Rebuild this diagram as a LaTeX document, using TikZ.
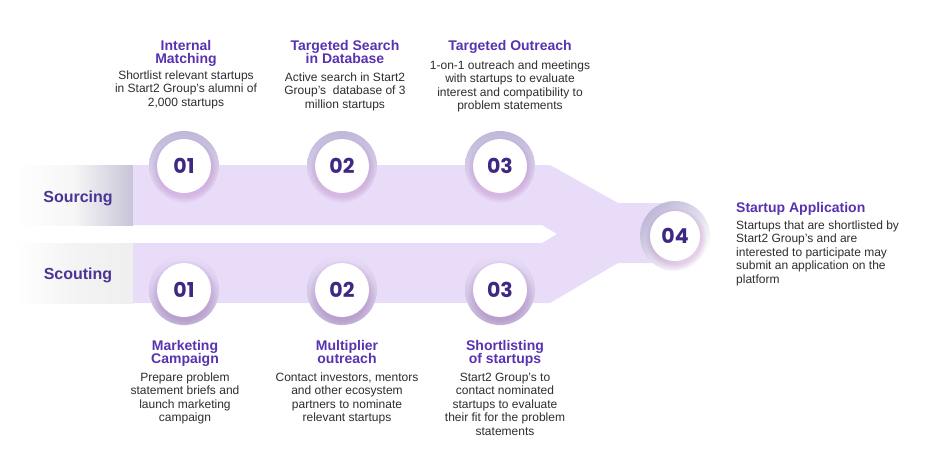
\documentclass[tikz,border=0pt]{standalone}
\usepackage{fontspec}
\setmainfont{Liberation Sans}
\newfontfamily\numfont{Poppins}
\usetikzlibrary{positioning, fadings}

\definecolor{bandc}{RGB}{233,220,248}
\definecolor{ringc}{RGB}{192,184,216}
\definecolor{headc}{RGB}{88,50,176}
\definecolor{numc}{RGB}{62,40,130}
\definecolor{lanec}{RGB}{76,52,150}
\definecolor{bodyc}{RGB}{45,45,45}
\definecolor{fadec}{RGB}{200,196,216}

\begin{document}
\begin{tikzpicture}[x=1pt, y=-1pt,
                    head/.style = {anchor=north, align=center, inner sep=0pt, text=headc,
                                   font=\fontsize{14}{13.5}\selectfont\bfseries},
                    body/.style = {anchor=north, align=center, inner sep=0pt, text=bodyc,
                                   font=\fontsize{12}{13.5}\selectfont},
                    lane/.style = {text=lanec, font=\fontsize{16}{16}\selectfont\bfseries},
                    num/.style = {text=numc, font=\numfont\fontsize{20.5}{20}\selectfont\bfseries},
                    halo/.style = {violet, opacity=0.15,
                                   path fading=circle with fuzzy edge 20 percent}
                   ]

    \useasboundingbox (0,0) rectangle (936,450);

    % faded start of both lanes
    \shade[left color=white, right color=fadec, middle color=gray!7] (15,165) rectangle (133,225);
    \shade[left color=white, right color=gray!13, middle color=gray!9] (15,243) rectangle (133,303);

    % the two lanes joining into one arrow
    \fill[bandc] (133,165) -- (550,165) -- (618,203) -- (675,203) -- (675,263)
        -- (618,263) -- (550,303) -- (133,303) -- (133,243) -- (542,243)
        -- (557,234) -- (542,225) -- (133,225) -- cycle;

    \node[lane] (sourcing) at (78,198) {Sourcing};
    \node[lane] (scouting) at (78,275) {Scouting};

    \foreach \x/\n [count=\i] in {184/01, 342/02, 500/03} {
        % sourcing steps
        \shade[top color=ringc, bottom color=bandc] (\x,166) circle (35);
        \fill[halo] (\x,170) circle (33);
        \fill[white] (\x,166) circle (27);
        \node[num] (src\i) at (\x,166) {\n};
        % scouting steps
        \shade[top color=bandc, bottom color=ringc] (\x,290) circle (35);
        \fill[halo] (\x,293) circle (33);
        \fill[white] (\x,290) circle (27);
        \node[num] (sct\i) at (\x,290) {\n};
    }

    \shade[top color=ringc, bottom color=white, shading angle=45] (675,236) circle (35);
    \fill[halo] (676,239) circle (31);
    \fill[white] (675,236) circle (25);
    \node[num] (app) at (675,236) {04};

    % sourcing texts
    \node[head] (h1) at (186,40) {Internal\\Matching};
    \node[body] (b1) at (186,70.5) {Shortlist relevant startups\\in Start2 Group’s alumni of\\2,000 startups};
    \node[head] (h2) at (345,40) {Targeted Search\\in Database};
    \node[body] (b2) at (345,72.5) {Active search in Start2\\Group’s\ \ database of 3\\million startups};
    \node[head] (h3) at (510,40) {Targeted Outreach};
    \node[body] (b3) at (510,60.5) {1-on-1 outreach and meetings\\with startups to evaluate\\interest and compatibility to\\problem statements};

    % scouting texts
    \node[head] (h4) at (185,340) {Marketing\\Campaign};
    \node[body] (b4) at (185,372.5) {Prepare problem\\statement briefs and\\launch marketing\\campaign};
    \node[head] (h5) at (347,340) {Multiplier\\outreach};
    \node[body] (b5) at (347,372.5) {Contact investors, mentors\\and other ecosystem\\partners to nominate\\relevant startups};
    \node[head] (h6) at (505,340) {Shortlisting\\of startups};
    \node[body] (b6) at (505,372.5) {Start2 Group’s to\\contact nominated\\startups to evaluate\\their fit for the problem\\statements};

    \node[head, anchor=north west, align=left] (h7) at (736,202) {Startup Application};
    \node[body, anchor=north west, align=left] (b7) at (736,220.5) {Startups that are shortlisted by\\Start2 Group’s and are\\interested to participate may\\submit an application on the\\platform};

\end{tikzpicture}
\end{document}
